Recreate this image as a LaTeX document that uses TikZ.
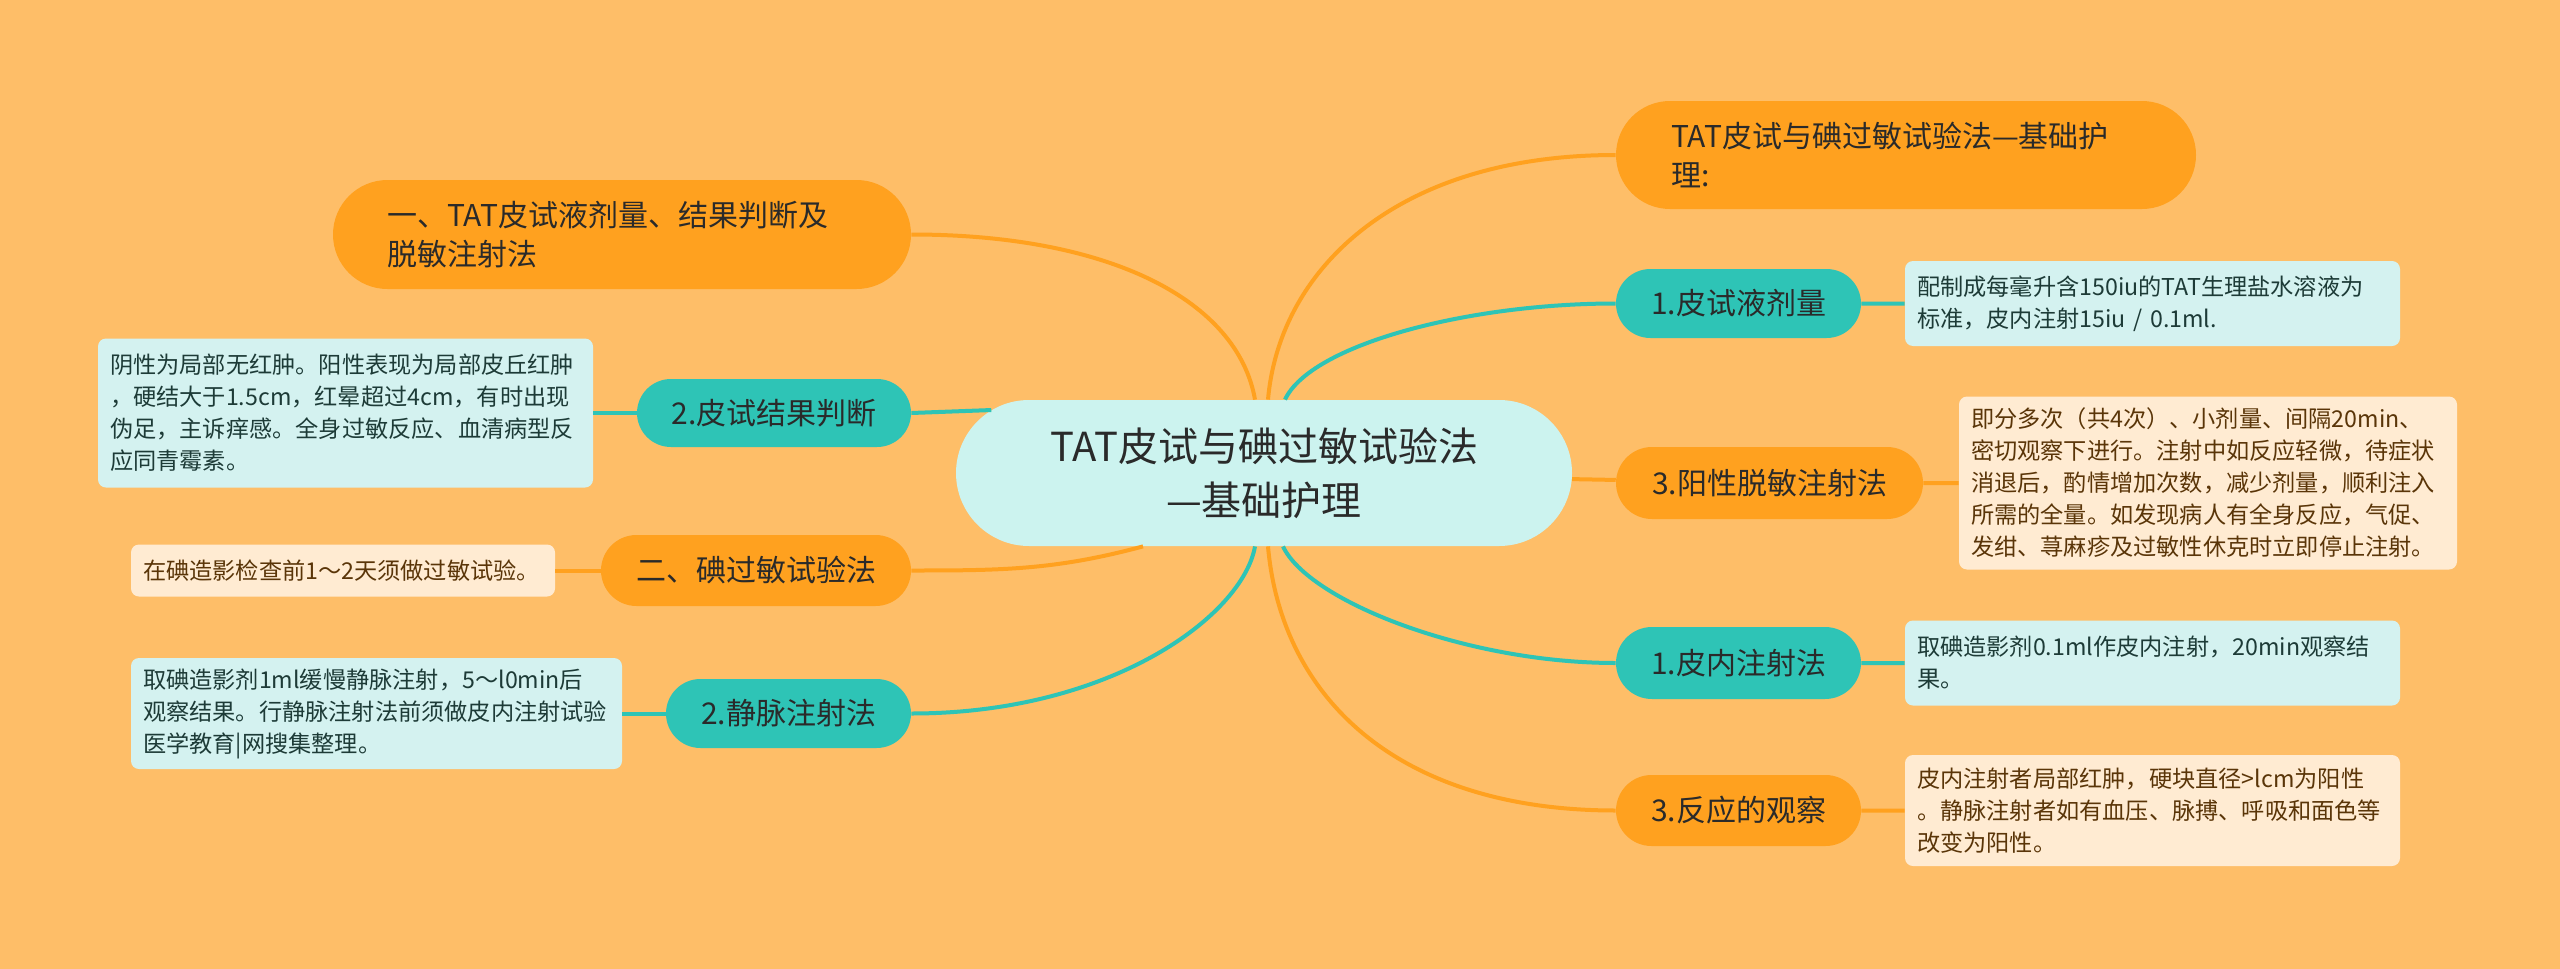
\documentclass[tikz,border=0pt]{standalone}
\usepackage{fontspec}
\setmainfont{Noto Sans CJK SC}
\usepackage{tikz}
\usetikzlibrary{shapes.misc}
\definecolor{bgorange}{HTML}{FEBE68}
\definecolor{mainorange}{HTML}{FFA11F}
\definecolor{mainteal}{HTML}{2EC4B6}
\definecolor{rootfill}{HTML}{CCF3EF}
\definecolor{tealleaf}{HTML}{D4F2F0}
\definecolor{orangeleaf}{HTML}{FFEBD2}
\definecolor{tealtext}{HTML}{1D3B37}
\definecolor{browntext}{HTML}{5A3508}
\definecolor{darktext}{HTML}{2A2A2A}

\begin{document}
\begin{tikzpicture}[x=0.5pt,y=-0.5pt]
	\fill[bgorange] (0,0) rectangle (2560,969);

	\node[rounded rectangle, fill=rootfill, inner sep=0pt, minimum width=308pt, minimum height=73pt,
	      align=center, text=darktext, font=\fontsize{20}{27}\selectfont] (root) at (1264,473)
	      {TAT皮试与碘过敏试验法\\—基础护理};

	\begin{scope}[every node/.style={rounded rectangle, inner sep=0pt, text=darktext,
	              font=\fontsize{15}{19.5}\selectfont}]
	    \node[fill=mainorange, minimum width=290pt, minimum height=54pt, text width=235pt, align=left] (r0) at (1906,155) {TAT皮试与碘过敏试验法—基础护\\理:};
	    \node[fill=mainteal, minimum width=122.5pt, minimum height=34.5pt] (r1) at (1738.5,303.5) {1.皮试液剂量};
	    \node[fill=mainorange, minimum width=153.5pt, minimum height=36pt] (r2) at (1769.5,483) {3.阳性脱敏注射法};
	    \node[fill=mainteal, minimum width=122.5pt, minimum height=36pt] (r3) at (1738.5,663) {1.皮内注射法};
	    \node[fill=mainorange, minimum width=122.5pt, minimum height=35.5pt] (r4) at (1738.5,810.5) {3.反应的观察};
	    \node[fill=mainorange, minimum width=289pt, minimum height=54.5pt, text width=235pt, align=left] (a1) at (622,234.5) {一、TAT皮试液剂量、结果判断及\\脱敏注射法};
	    \node[fill=mainteal, minimum width=137pt, minimum height=34pt] (a2) at (774,413) {2.皮试结果判断};
	    \node[fill=mainorange, minimum width=155pt, minimum height=35.5pt] (a3) at (756,570.5) {二、碘过敏试验法};
	    \node[fill=mainteal, minimum width=122.5pt, minimum height=34.5pt] (a4) at (788.5,713.5) {2.静脉注射法};
	\end{scope}

	\begin{scope}[every node/.style={rounded corners=4pt, inner xsep=6pt, inner ysep=0pt, align=left,
	              font=\fontsize{11.6}{16}\selectfont}]
	    \node[fill=tealleaf, text=tealtext, text width=235.5pt, minimum height=42.5pt] (l1) at (2152.5,303.5)
	        {配制成每毫升含150iu的TAT生理盐水溶液为\\标准，皮内注射15iu / 0.1ml.};
	    \node[fill=orangeleaf, text=browntext, text width=237pt, minimum height=86.5pt] (l2) at (2208,483)
	        {即分多次（共4次）、小剂量、间隔20min、\\密切观察下进行。注射中如反应轻微，待症状\\消退后，酌情增加次数，减少剂量，顺利注入\\所需的全量。如发现病人有全身反应，气促、\\发绀、荨麻疹及过敏性休克时立即停止注射。};
	    \node[fill=tealleaf, text=tealtext, text width=235.5pt, minimum height=42.5pt] (l3) at (2152.5,663)
	        {取碘造影剂0.1ml作皮内注射，20min观察结\\果。};
	    \node[fill=orangeleaf, text=browntext, text width=235.5pt, minimum height=55.5pt] (l4) at (2152.5,810.5)
	        {皮内注射者局部红肿，硬块直径>lcm为阳性\\。静脉注射者如有血压、脉搏、呼吸和面色等\\改变为阳性。};
	    \node[fill=tealleaf, text=tealtext, text width=235.5pt, minimum height=74.5pt] (m2) at (345.5,413)
	        {阴性为局部无红肿。阳性表现为局部皮丘红肿\\，硬结大于1.5cm，红晕超过4cm，有时出现\\伪足，主诉痒感。全身过敏反应、血清病型反\\应同青霉素。};
	    \node[fill=orangeleaf, text=browntext, text width=200pt, minimum height=26pt] (m3) at (343,570.5)
	        {在碘造影检查前1～2天须做过敏试验。};
	    \node[fill=tealleaf, text=tealtext, text width=233.5pt, minimum height=55.5pt] (m4) at (376.5,713.5)
	        {取碘造影剂1ml缓慢静脉注射，5～l0min后\\观察结果。行静脉注射法前须做皮内注射试验\\医学教育|网搜集整理。};
	\end{scope}

	\begin{scope}[line width=2pt, every edge/.style={draw}]
	    \path ([xshift=-4.5pt]root.north) edge[mainorange, out=100, in=0, out distance=50pt, in distance=100pt] (a1.east);
	    \path ([xshift=2pt]root.north) edge[mainorange, out=85, in=180, out distance=65pt, in distance=110pt] (r0.west);
	    \path ([xshift=10.5pt]root.north) edge[mainteal, out=65, in=180, out distance=30pt, in distance=75pt] (r1.west);
	    \path (root) edge[mainorange] (r2);
	    \path (a2.east) edge[mainteal] (root.167);
	    \path ([xshift=-60.5pt]root.south) edge[mainorange, out=195, in=0] (a3.east);
	    \path ([xshift=-4.5pt]root.south) edge[mainteal, out=-100, in=0, out distance=35pt, in distance=100pt] (a4.east);
	    \path ([xshift=2pt]root.south) edge[mainorange, out=-85, in=180, out distance=75pt, in distance=110pt] (r4.west);
	    \path ([xshift=9.5pt]root.south) edge[mainteal, out=-65, in=180, out distance=30pt, in distance=75pt] (r3.west);
	    \path (r1) edge[mainteal] (l1);
	    \path (r2) edge[mainorange] (l2);
	    \path (r3) edge[mainteal] (l3);
	    \path (r4) edge[mainorange] (l4);
	    \path (a2) edge[mainteal] (m2);
	    \path (a3) edge[mainorange] (m3);
	    \path (a4) edge[mainteal] (m4);
	\end{scope}
\end{tikzpicture}
\end{document}
